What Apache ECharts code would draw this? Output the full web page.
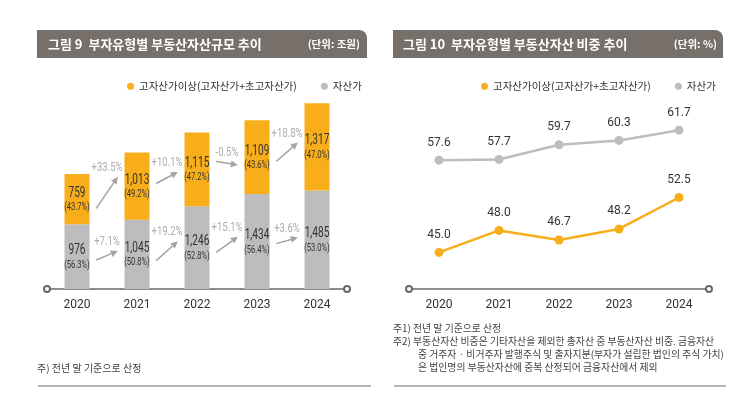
<!DOCTYPE html>
<html>
<head>
<meta charset="utf-8">
<script src="https://cdn.jsdelivr.net/npm/echarts@6/dist/echarts.min.js"></script>
<style>
  html, body { margin: 0; padding: 0; background: #fff; }
  #main { width: 749px; height: 397px; }
</style>
</head>
<body>
<div id="main"></div>
<script>
// 연도
var years = ['2020', '2021', '2022', '2023', '2024'];
// 그림 9 : 부동산자산 규모 (조원)
var highAmt = [759, 1013, 1115, 1109, 1317];
var highPct = [43.7, 49.2, 47.2, 43.6, 47.0];
var midAmt = [976, 1045, 1246, 1434, 1485];
var midPct = [56.3, 50.8, 52.8, 56.4, 53.0];
// 전년 대비 증가율 (%)
var highGrowth = [33.5, 10.1, -0.5, 18.8];
var midGrowth = [7.1, 19.2, 15.1, 3.6];
// 그림 10 : 부동산자산 비중 (%)
var highShare = [45.0, 48.0, 46.7, 48.2, 52.5];
var midShare = [57.6, 57.7, 59.7, 60.3, 61.7];

var HIGH = '고자산가이상(고자산가+초고자산가)';
var MID = '자산가';
var ORANGE = '#f8ae1a';
var GRAY = '#bdbdc0';
var NUM_FONT = "Roboto, sans-serif";
var KR_FONT = "'Noto Sans CJK KR', sans-serif";

var myChart = echarts.init(document.getElementById('main'));

function comma(v) {
  return String(v).replace(/\B(?=(\d{3})+(?!\d))/g, ',');
}

// 막대 안 라벨 (값 + 비중), 좁은 글꼴 느낌으로 가로 축소
function labelRender(midFn, amts, pcts) {
  return function (params, api) {
    var i = params.dataIndex;
    var p = api.coord([i, midFn(i)]);
    return {
      type: 'group',
      children: [
        {
          type: 'text', x: p[0], y: p[1] - 6, scaleX: 0.72,
          style: { text: comma(amts[i]), align: 'center', verticalAlign: 'middle', fill: '#333', font: '14px ' + NUM_FONT }
        },
        {
          type: 'text', x: p[0], y: p[1] + 8.5, scaleX: 0.72,
          style: { text: '(' + pcts[i].toFixed(1) + '%)', align: 'center', verticalAlign: 'middle', fill: '#333', font: '10.5px ' + NUM_FONT }
        }
      ]
    };
  };
}

// 증가율 화살표 (막대 사이)
function arrowRender(amtFn, growth) {
  return function (params, api) {
    var i = params.dataIndex;
    var c = (amtFn(i) + amtFn(i + 1)) / 2;
    var p0 = api.coord([i, c]);
    var p1 = api.coord([i + 1, c]);
    var w = p1[0] - p0[0];
    var g = growth[i];
    var dy = g * 0.85 + (g >= 0 ? 3 : -3);
    var x0 = p0[0] + w * 0.32, x1 = p0[0] + w * 0.68;
    var y0 = p0[1] + dy / 2, y1 = p0[1] - dy / 2;
    var ang = Math.atan2(y1 - y0, x1 - x0);
    var hl = 7, hw = 3.5;
    var bx = x1 - hl * Math.cos(ang), by = y1 - hl * Math.sin(ang);
    var nx = -Math.sin(ang) * hw, ny = Math.cos(ang) * hw;
    return {
      type: 'group',
      children: [
        {
          type: 'line',
          shape: { x1: x0, y1: y0, x2: bx, y2: by },
          style: { stroke: '#a3a3a3', lineWidth: 1.5 }
        },
        {
          type: 'polygon',
          shape: { points: [[x1, y1], [bx + nx, by + ny], [bx - nx, by - ny]] },
          style: { fill: '#a3a3a3' }
        },
        {
          type: 'text',
          x: (x0 + x1) / 2,
          y: Math.min(y0, y1) - 9,
          scaleX: 0.76,
          style: {
            text: (g > 0 ? '+' : '') + g.toFixed(1) + '%',
            align: 'center',
            verticalAlign: 'middle',
            fill: '#adadad',
            font: '12.5px ' + NUM_FONT
          }
        }
      ]
    };
  };
}

var axisCommon = {
  type: 'category',
  data: years,
  axisLine: {
    lineStyle: { color: '#6e6761', width: 1.5 },
    symbol: ['emptyCircle', 'emptyCircle'],
    symbolSize: [6, 6]
  },
  axisTick: { show: false },
  axisLabel: { color: '#333', fontSize: 12, fontFamily: NUM_FONT, margin: 10 }
};

function idx(arr) {
  return arr.map(function (v, i) { return [i, v]; });
}

var option = {
  animation: false,
  grid: [
    { left: 47, top: 90, width: 300, height: 199 },
    { left: 409, top: 106, width: 300, height: 183 }
  ],
  legend: [
    {
      left: 122, top: 76, icon: 'circle', itemWidth: 7, itemHeight: 7, itemGap: 24,
      data: [HIGH, MID],
      textStyle: { color: '#333', fontSize: 10.5, fontFamily: KR_FONT }
    },
    {
      left: 476, top: 76, icon: 'circle', itemWidth: 7, itemHeight: 7, itemGap: 24,
      data: [HIGH, MID],
      textStyle: { color: '#333', fontSize: 10.5, fontFamily: KR_FONT }
    }
  ],
  xAxis: [
    Object.assign({ gridIndex: 0 }, axisCommon),
    Object.assign({ gridIndex: 1 }, axisCommon)
  ],
  yAxis: [
    { gridIndex: 0, type: 'value', min: 0, max: 3000, show: false },
    { gridIndex: 1, type: 'value', min: 40, max: 65, show: false }
  ],
  series: [
    {
      name: MID, type: 'bar', stack: 'amt', barWidth: 25,
      xAxisIndex: 0, yAxisIndex: 0,
      itemStyle: { color: GRAY },
      data: midAmt
    },
    {
      name: HIGH, type: 'bar', stack: 'amt', barWidth: 25,
      xAxisIndex: 0, yAxisIndex: 0,
      itemStyle: { color: ORANGE },
      data: highAmt
    },
    {
      type: 'custom', xAxisIndex: 0, yAxisIndex: 0, silent: true, z: 5,
      renderItem: labelRender(function (i) { return midAmt[i] / 2; }, midAmt, midPct),
      data: idx(midAmt)
    },
    {
      type: 'custom', xAxisIndex: 0, yAxisIndex: 0, silent: true, z: 5,
      renderItem: labelRender(function (i) { return midAmt[i] + highAmt[i] / 2; }, highAmt, highPct),
      data: idx(highAmt)
    },
    {
      type: 'custom', xAxisIndex: 0, yAxisIndex: 0, silent: true,
      renderItem: arrowRender(function (i) { return midAmt[i] + highAmt[i] / 2; }, highGrowth),
      data: idx(highGrowth)
    },
    {
      type: 'custom', xAxisIndex: 0, yAxisIndex: 0, silent: true,
      renderItem: arrowRender(function (i) { return midAmt[i] / 2; }, midGrowth),
      data: idx(midGrowth)
    },
    {
      name: MID, type: 'line', xAxisIndex: 1, yAxisIndex: 1,
      symbol: 'circle', symbolSize: 9,
      lineStyle: { color: GRAY, width: 2.5 },
      itemStyle: { color: GRAY },
      label: {
        show: true, position: 'top', distance: 7,
        color: '#333', fontSize: 12, fontFamily: NUM_FONT,
        formatter: function (p) { return p.value.toFixed(1); }
      },
      data: midShare
    },
    {
      name: HIGH, type: 'line', xAxisIndex: 1, yAxisIndex: 1,
      symbol: 'circle', symbolSize: 9,
      lineStyle: { color: ORANGE, width: 2.5 },
      itemStyle: { color: ORANGE },
      label: {
        show: true, position: 'top', distance: 7,
        color: '#333', fontSize: 12, fontFamily: NUM_FONT,
        formatter: function (p) { return p.value.toFixed(1); }
      },
      data: highShare
    }
  ],
  graphic: [
    // 제목 바
    { type: 'rect', shape: { x: 37, y: 30, width: 330, height: 28, r: [0, 8, 0, 0] }, style: { fill: '#77706a' } },
    { type: 'rect', shape: { x: 393, y: 30, width: 330, height: 28, r: [0, 8, 0, 0] }, style: { fill: '#77706a' } },
    {
      type: 'text', x: 48, y: 44,
      style: { text: '그림 9  부자유형별 부동산자산규모 추이', fill: '#fff', font: 'bold 13px ' + KR_FONT, verticalAlign: 'middle' }
    },
    {
      type: 'text', x: 360, y: 44,
      style: { text: '(단위: 조원)', fill: '#fff', font: 'bold 10.5px ' + KR_FONT, align: 'right', verticalAlign: 'middle' }
    },
    {
      type: 'text', x: 403, y: 44,
      style: { text: '그림 10  부자유형별 부동산자산 비중 추이', fill: '#fff', font: 'bold 13px ' + KR_FONT, verticalAlign: 'middle' }
    },
    {
      type: 'text', x: 717, y: 44,
      style: { text: '(단위: %)', fill: '#fff', font: 'bold 10.5px ' + KR_FONT, align: 'right', verticalAlign: 'middle' }
    },
    // 주석
    {
      type: 'text', x: 37, y: 368,
      style: { text: '주) 전년 말 기준으로 산정', fill: '#444', font: '10px ' + KR_FONT, verticalAlign: 'middle' }
    },
    {
      type: 'text', x: 393, y: 328,
      style: { text: '주1) 전년 말 기준으로 산정', fill: '#444', font: '9.85px ' + KR_FONT, verticalAlign: 'middle' }
    },
    {
      type: 'text', x: 393, y: 341,
      style: { text: '주2) 부동산자산 비중은 기타자산을 제외한 총자산 중 부동산자산 비중. 금융자산', fill: '#444', font: '9.85px ' + KR_FONT, verticalAlign: 'middle' }
    },
    {
      type: 'text', x: 418, y: 354,
      style: { text: '중 거주자 · 비거주자 발행주식 및 출자지분(부자가 설립한 법인의 주식 가치)', fill: '#444', font: '9.85px ' + KR_FONT, verticalAlign: 'middle' }
    },
    {
      type: 'text', x: 418, y: 367,
      style: { text: '은 법인명의 부동산자산에 중복 산정되어 금융자산에서 제외', fill: '#444', font: '9.85px ' + KR_FONT, verticalAlign: 'middle' }
    },
    // 하단 구분선
    { type: 'line', shape: { x1: 38, y1: 386, x2: 371, y2: 386 }, style: { stroke: '#b8b4b0', lineWidth: 2 } },
    { type: 'line', shape: { x1: 394, y1: 386, x2: 726, y2: 386 }, style: { stroke: '#b8b4b0', lineWidth: 2 } }
  ]
};

option && myChart.setOption(option);
</script>
</body>
</html>
